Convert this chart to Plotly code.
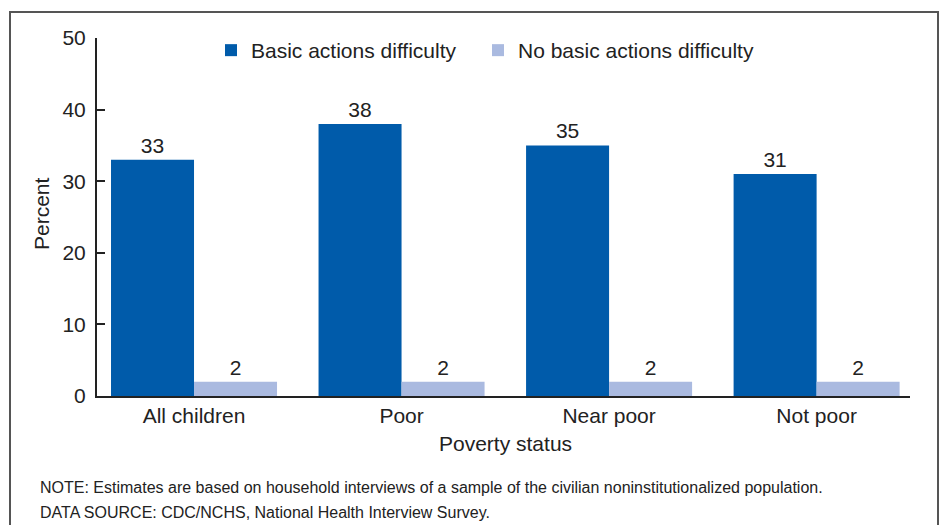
import plotly.graph_objects as go

categories = ["All children", "Poor", "Near poor", "Not poor"]
basic_difficulty = [33, 38, 35, 31]
no_basic_difficulty = [2, 2, 2, 2]
series_names = ["Basic actions difficulty", "No basic actions difficulty"]
y_ticks = [0, 10, 20, 30, 40, 50]

W, H = 945, 525
FONT = "Liberation Sans, Arial, sans-serif"
TXT = "#222222"
FS = 21

fig = go.Figure()
fig.add_trace(go.Bar(
    x=categories, y=basic_difficulty, name=series_names[0],
    marker=dict(color="#005BAA", line=dict(width=0)),
    text=[str(v) for v in basic_difficulty], textposition="outside",
    textfont=dict(size=FS, color=TXT, family=FONT), cliponaxis=False,
    legend="legend",
))
fig.add_trace(go.Bar(
    x=categories, y=no_basic_difficulty, name=series_names[1],
    marker=dict(color="#AABAE0", line=dict(width=0)),
    text=[str(v) for v in no_basic_difficulty], textposition="outside",
    textfont=dict(size=FS, color=TXT, family=FONT), cliponaxis=False,
    legend="legend2",
))

def px_x(p):
    return p / W

def px_y(p):
    return 1 - p / H

legend_common = dict(
    orientation="h", xanchor="left", yanchor="top",
    font=dict(size=FS, color=TXT, family=FONT), bgcolor="rgba(0,0,0,0)",
    itemwidth=30, tracegroupgap=0,
)

fig.update_layout(
    width=W, height=H,
    margin=dict(l=0, r=0, t=0, b=0, pad=0),
    paper_bgcolor="white", plot_bgcolor="white",
    barmode="group", bargap=0.2, bargroupgap=0,
    font=dict(family=FONT, size=FS, color=TXT),
    uniformtext=dict(minsize=FS, mode="show"),
    showlegend=True,
    legend=dict(x=px_x(211), y=px_y(30), **legend_common),
    legend2=dict(x=px_x(478), y=px_y(30), **legend_common),
    xaxis=dict(
        domain=[px_x(97), px_x(910)],
        range=[-0.4675, 3.45],
        showline=True, linecolor="#222222", linewidth=2,
        ticks="", showgrid=False, zeroline=False,
        tickfont=dict(size=FS, color=TXT, family=FONT),
        anchor="y", automargin=False,
    ),
    yaxis=dict(
        domain=[px_y(396), px_y(38)],
        range=[0, 50],
        tickvals=y_ticks,
        showline=True, linecolor="#222222", linewidth=2,
        ticks="inside", ticklen=8, tickwidth=2, tickcolor="#222222",
        showgrid=False, zeroline=False,
        tickfont=dict(size=FS, color=TXT, family=FONT),
        ticklabelstandoff=5, automargin=False,
    ),
    shapes=[
        dict(type="rect", xref="paper", yref="paper",
             x0=px_x(10), x1=px_x(938), y0=-0.02, y1=px_y(12),
             line=dict(color="#555555", width=2), fillcolor="rgba(0,0,0,0)"),
    ],
    annotations=[
        dict(text="Percent", xref="paper", yref="paper", x=px_x(42), y=px_y(214),
             textangle=-90, showarrow=False, font=dict(size=FS, color=TXT, family=FONT),
             xanchor="center", yanchor="middle"),
        dict(text="Poverty status", xref="paper", yref="paper", x=px_x(506), y=px_y(443),
             showarrow=False, font=dict(size=FS, color=TXT, family=FONT),
             xanchor="center", yanchor="middle"),
        dict(text="NOTE: Estimates are based on household interviews of a sample of the civilian noninstitutionalized population.",
             xref="paper", yref="paper", x=px_x(38), y=px_y(487),
             showarrow=False, font=dict(size=16, color=TXT, family=FONT),
             xanchor="left", yanchor="middle"),
        dict(text="DATA SOURCE: CDC/NCHS, National Health Interview Survey.",
             xref="paper", yref="paper", x=px_x(38), y=px_y(512),
             showarrow=False, font=dict(size=16, color=TXT, family=FONT),
             xanchor="left", yanchor="middle"),
    ],
)

fig.write_html(
    "out.html",
    config={"displayModeBar": False},
    post_script="document.body.style.margin='0';document.body.style.overflow='hidden';",
)
